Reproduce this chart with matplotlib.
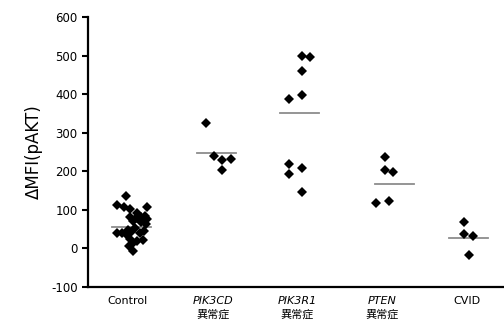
import numpy as np
import matplotlib.pyplot as plt

# values
categories = ["Control", "PIK3CD", "PIK3R1", "PTEN", "CVID"]
italic_label = [False, True, True, True, False]
suffix_label = ["", "異常症", "異常症", "異常症", ""]

control_vals = [135, 112, 107, 103, 108, 92, 85, 82, 78, 80, 75, 70, 68, 64,
                52, 48, 45, 40, 40, 38, 42, 40, 25, 20, 22, 12, 5, -8]
pik3cd_vals = [325, 240, 229, 233, 202]
pik3r1_vals = [499, 498, 460, 389, 398, 219, 208, 193, 146]
pten_vals = [238, 203, 199, 117, 124]
cvid_vals = [68, 37, 33, -17]
group_lines = [56, 248, 351, 166, 26]

# horizontal scatter of the points inside each group
control_dx = [-0.02, -0.13, -0.05, 0.02, 0.22, 0.11, 0.20, 0.02, 0.09, 0.15, 0.22, 0.06, 0.15, 0.21,
              0.08, 0.00, 0.19, -0.13, -0.07, -0.02, 0.04, 0.14, 0.02, 0.11, 0.18, 0.05, 0.01, 0.06]
pik3cd_dx = [-0.08, 0.02, 0.11, 0.21, 0.11]
pik3r1_dx = [0.05, 0.15, 0.05, -0.10, 0.05, -0.10, 0.05, -0.10, 0.05]
pten_dx = [0.03, 0.03, 0.13, -0.07, 0.08]
cvid_dx = [-0.04, -0.04, 0.07, 0.02]
line_dx = [0.04, 0.04, 0.02, 0.15, 0.02]

groups = [control_vals, pik3cd_vals, pik3r1_vals, pten_vals, cvid_vals]
offsets = [control_dx, pik3cd_dx, pik3r1_dx, pten_dx, cvid_dx]

plt.rcParams['font.family'] = ['DejaVu Sans']
plt.rcParams['axes.unicode_minus'] = False

fig = plt.figure(figsize=(5.04, 3.22), dpi=100)
ax = fig.add_axes([0.1746, 0.1096, 0.8254, 0.8366])

positions = np.arange(1, len(categories) + 1)
for pos, vals, dx, line_val, ldx in zip(positions, groups, offsets, group_lines, line_dx):
    ax.plot(pos + np.array(dx), vals, linestyle="none", marker="D", markersize=4.8,
            color="black", markeredgewidth=0)
    ax.plot([pos + ldx - 0.23, pos + ldx + 0.23], [line_val, line_val],
            color="#8c8c8c", linewidth=1.3, zorder=1)

ax.set_xlim(0.528, 5.437)
ax.set_ylim(-100, 600)
ax.set_yticks(np.arange(-100, 601, 100))
ax.tick_params(axis="y", direction="out", length=4.5, width=1.5, labelsize=8.5, pad=3)
ax.tick_params(axis="x", length=0, labelsize=8, pad=6.5)

ax.set_xticks(positions)
ax.set_xticklabels(categories)
for lbl, it in zip(ax.get_xticklabels(), italic_label):
    if it:
        lbl.set_fontstyle("italic")
for pos, suf in zip(positions, suffix_label):
    if suf:
        ax.annotate(suf, xy=(pos, 0), xycoords=("data", "axes fraction"),
                    xytext=(0, -20), textcoords="offset points",
                    ha="center", va="center", fontsize=8,
                    family=["Noto Sans CJK JP", "DejaVu Sans"])

ax.set_ylabel("ΔMFI(pAKT)", fontsize=12, labelpad=6)

for side in ["top", "right"]:
    ax.spines[side].set_visible(False)
ax.spines["left"].set_linewidth(1.6)
ax.spines["bottom"].set_linewidth(1.6)

plt.savefig("out.png", dpi=100)
